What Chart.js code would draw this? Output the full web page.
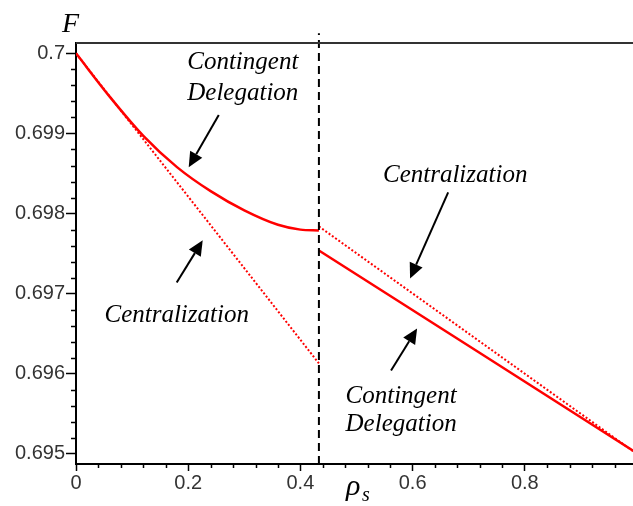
<!DOCTYPE html>
<html>
<head>
<meta charset="utf-8">
<script src="https://cdn.jsdelivr.net/npm/chart.js@4/dist/chart.umd.min.js"></script>
<style>
  html, body { margin: 0; padding: 0; background: #fff; }
  #wrap { width: 633px; height: 506px; overflow: hidden; }
</style>
</head>
<body>
<div id="wrap"><canvas id="myChart" width="650" height="506"></canvas></div>
<script>
// threshold where the regime switches
const thresholdX = 0.433;

// Contingent Delegation (solid)
const cdLeftX = [0, 0.06, 0.12, 0.18, 0.24, 0.30, 0.36, 0.40, 0.433];
const cdLeftY = [0.7, 0.69946, 0.69897, 0.69858, 0.69828, 0.69804, 0.69786, 0.69780, 0.69779];
const cdRightX = [0.433, 1];
const cdRightY = [0.69754, 0.69501];

// Centralization (dotted)
const cenLeftX = [0, 0.433];
const cenLeftY = [0.7, 0.69613];
const cenRightX = [0.433, 1];
const cenRightY = [0.69784, 0.695];

// dashed vertical line ends
const vLineY = [0.694875, 0.70025];

// axis ranges and ticks
const xMin = 0, xMax = 1;
const yMin = 0.694875, yMax = 0.700129;
const xTicks = [0, 0.2, 0.4, 0.6, 0.8, 1];
const xTickLabels = ['0', '0.2', '0.4', '0.6', '0.8', '1'];
const xMinorTicks = [0.04, 0.08, 0.12, 0.16, 0.24, 0.28, 0.32, 0.36, 0.44, 0.48, 0.52, 0.56, 0.64, 0.68, 0.72, 0.76, 0.84, 0.88, 0.92, 0.96];
const yTicks = [0.695, 0.696, 0.697, 0.698, 0.699, 0.7];
const yTickLabels = ['0.695', '0.696', '0.697', '0.698', '0.699', '0.7'];
const yMinorTicks = [0.6952, 0.6954, 0.6956, 0.6958, 0.6962, 0.6964, 0.6966, 0.6968, 0.6972, 0.6974, 0.6976, 0.6978,
                     0.6982, 0.6984, 0.6986, 0.6988, 0.6992, 0.6994, 0.6996, 0.6998];

// annotations (in data units)
const labelTexts = ['Contingent', 'Delegation', 'Centralization', 'Centralization', 'Contingent', 'Delegation'];
const labelX = [0.2973, 0.2973, 0.1795, 0.6759, 0.5795, 0.5795];
const labelY = [0.699804, 0.699416, 0.696641, 0.698391, 0.695641, 0.695291];
const arrowFrom = [[0.2545, 0.699229], [0.1795, 0.697141], [0.6634, 0.698266], [0.5616, 0.696041]];
const arrowTo = [[0.2009, 0.698579], [0.2259, 0.697666], [0.5955, 0.697191], [0.6080, 0.696566]];

function toPoints(xs, ys) {
  return xs.map((x, i) => ({ x: x, y: ys[i] }));
}

const RED = '#ff0000';
const SERIF = '"Liberation Serif", "Times New Roman", serif';

const extrasPlugin = {
  id: 'extras',
  afterDraw(chart) {
    const ctx = chart.ctx;
    const xs = chart.scales.x, ys = chart.scales.y;
    const area = chart.chartArea;
    ctx.save();

    // top frame line
    ctx.strokeStyle = '#333';
    ctx.lineWidth = 2;
    ctx.beginPath();
    ctx.moveTo(area.left, area.top);
    ctx.lineTo(chart.width, area.top);
    ctx.stroke();

    // minor ticks
    ctx.strokeStyle = '#000';
    ctx.lineWidth = 1.5;
    ctx.beginPath();
    xMinorTicks.forEach(v => {
      const px = Math.round(xs.getPixelForValue(v)) + 0.5;
      ctx.moveTo(px, area.bottom);
      ctx.lineTo(px, area.bottom + 4);
    });
    yMinorTicks.forEach(v => {
      const py = Math.round(ys.getPixelForValue(v)) + 0.5;
      ctx.moveTo(area.left, py);
      ctx.lineTo(area.left - 5, py);
    });
    ctx.stroke();

    // annotation labels
    ctx.fillStyle = '#000';
    ctx.font = 'italic 25px ' + SERIF;
    ctx.textAlign = 'center';
    ctx.textBaseline = 'alphabetic';
    labelTexts.forEach((t, i) => {
      ctx.fillText(t, xs.getPixelForValue(labelX[i]), ys.getPixelForValue(labelY[i]));
    });

    // arrows
    arrowFrom.forEach((f, i) => {
      const x1 = xs.getPixelForValue(f[0]), y1 = ys.getPixelForValue(f[1]);
      const x2 = xs.getPixelForValue(arrowTo[i][0]), y2 = ys.getPixelForValue(arrowTo[i][1]);
      const ang = Math.atan2(y2 - y1, x2 - x1);
      const headLen = 15, headW = 7;
      const bx = x2 - headLen * Math.cos(ang), by = y2 - headLen * Math.sin(ang);
      ctx.strokeStyle = '#000';
      ctx.lineWidth = 2;
      ctx.beginPath();
      ctx.moveTo(x1, y1);
      ctx.lineTo(bx, by);
      ctx.stroke();
      ctx.beginPath();
      ctx.moveTo(x2, y2);
      ctx.lineTo(bx + headW * Math.sin(ang), by - headW * Math.cos(ang));
      ctx.lineTo(bx - headW * Math.sin(ang), by + headW * Math.cos(ang));
      ctx.closePath();
      ctx.fill();
    });

    // axis titles
    ctx.textAlign = 'left';
    ctx.font = 'italic 28px ' + SERIF;
    ctx.fillText('F', 62, 32);
    ctx.font = 'italic 30px ' + SERIF;
    ctx.fillText('ρ', 346, 495);
    ctx.font = 'italic 20px ' + SERIF;
    ctx.fillText('s', 362, 501);

    ctx.restore();
  }
};

const ctx = document.getElementById('myChart').getContext('2d');

new Chart(ctx, {
  type: 'line',
  data: {
    datasets: [
      {
        label: 'threshold',
        data: toPoints([thresholdX, thresholdX], vLineY),
        borderColor: '#000',
        borderWidth: 2,
        borderDash: [8, 5],
        pointRadius: 0,
        clip: false
      },
      {
        label: 'Contingent Delegation',
        data: toPoints(cdLeftX, cdLeftY).concat([{ x: thresholdX, y: null }], toPoints(cdRightX, cdRightY)),
        borderColor: RED,
        borderWidth: 2.5,
        pointRadius: 0,
        cubicInterpolationMode: 'monotone',
        spanGaps: false
      },
      {
        label: 'Centralization',
        data: toPoints(cenLeftX, cenLeftY).concat([{ x: thresholdX, y: null }], toPoints(cenRightX, cenRightY)),
        borderColor: RED,
        borderWidth: 2,
        borderDash: [2, 2],
        pointRadius: 0,
        spanGaps: false
      }
    ]
  },
  options: {
    responsive: false,
    animation: false,
    devicePixelRatio: 1,
    layout: { padding: { top: 43, right: 13, left: 0, bottom: 0 } },
    plugins: {
      legend: { display: false },
      tooltip: { enabled: false },
      title: { display: false }
    },
    scales: {
      x: {
        type: 'linear',
        min: xMin,
        max: xMax,
        afterBuildTicks: scale => { scale.ticks = xTicks.map(v => ({ value: v })); },
        afterFit: scale => { scale.height = 42; },
        border: { color: '#000', width: 2 },
        grid: { drawOnChartArea: false, drawTicks: true, tickLength: 7, tickColor: '#000', tickWidth: 1.5 },
        ticks: {
          autoSkip: false,
          maxRotation: 0,
          padding: 0,
          color: '#333',
          font: { family: 'Liberation Sans', size: 20 },
          callback: (v, i) => xTickLabels[i]
        }
      },
      y: {
        type: 'linear',
        min: yMin,
        max: yMax,
        afterBuildTicks: scale => { scale.ticks = yTicks.map(v => ({ value: v })); },
        afterFit: scale => { scale.width = 76; },
        border: { color: '#000', width: 2 },
        grid: { drawOnChartArea: false, drawTicks: true, tickLength: 10, tickColor: '#000', tickWidth: 1.5 },
        ticks: {
          autoSkip: false,
          padding: 1,
          color: '#333',
          font: { family: 'Liberation Sans', size: 20 },
          callback: (v, i) => yTickLabels[i]
        }
      }
    }
  },
  plugins: [extrasPlugin]
});
</script>
</body>
</html>
